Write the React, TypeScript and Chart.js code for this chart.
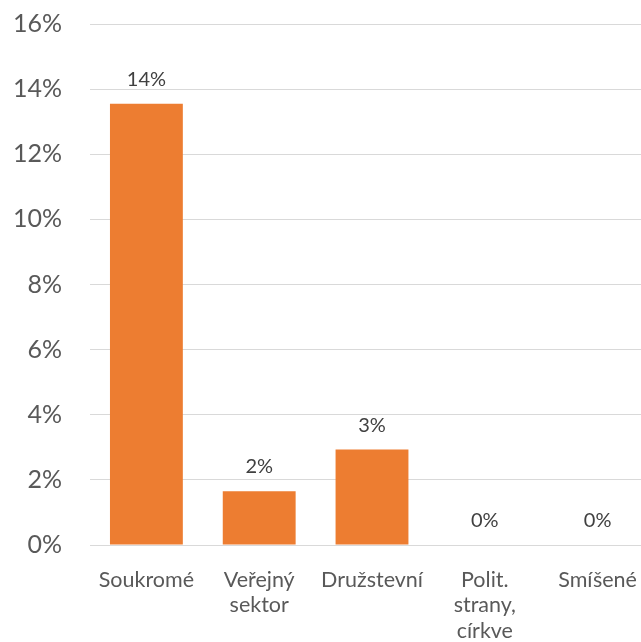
import React, { useEffect, useRef } from "react";
import { Chart, registerables } from "chart.js";

Chart.register(...registerables);

const categories: (string | string[])[] = [
  "Soukromé",
  ["Veřejný", "sektor"],
  "Družstevní",
  ["Polit.", "strany,", "církve"],
  "Smíšené",
];
const values: number[] = [13.55, 1.65, 2.93, 0, 0];
const yMin = 0;
const yMax = 16;
const yStep = 2;

const FONT = "Lato";

const dataLabelPlugin = {
  id: "dataLabels",
  afterDatasetsDraw(chart: any) {
    const ctx = chart.ctx;
    const meta = chart.getDatasetMeta(0);
    ctx.save();
    ctx.font = `20px ${FONT}`;
    ctx.fillStyle = "#404040";
    ctx.textAlign = "center";
    ctx.textBaseline = "alphabetic";
    meta.data.forEach((bar: any, i: number) => {
      const v = values[i];
      ctx.fillText(`${Math.round(v)}%`, bar.x, bar.y - 18);
    });
    ctx.restore();
  },
};

export default function App() {
  const ref = useRef<HTMLCanvasElement | null>(null);
  useEffect(() => {
    if (!ref.current) return;
    const chart = new Chart(ref.current, {
      type: "bar",
      data: {
        labels: categories,
        datasets: [
          {
            data: values,
            backgroundColor: "#ED7D31",
            borderWidth: 0,
            categoryPercentage: 1,
            barPercentage: 0.646,
          },
        ],
      },
      options: {
        responsive: false,
        animation: false,
        devicePixelRatio: 1,
        layout: { padding: { top: 24, right: 6, bottom: 0, left: 0 } },
        plugins: {
          legend: { display: false },
          tooltip: { enabled: false },
        },
        scales: {
          x: {
            grid: { display: false },
            border: { display: false },
            ticks: {
              color: "#595959",
              font: { family: FONT, size: 21.5, lineHeight: 1.19 },
              padding: 14,
              maxRotation: 0,
              autoSkip: false,
            },
            afterFit: (s: any) => {
              s.height = 97;
            },
          },
          y: {
            min: yMin,
            max: yMax,
            border: { display: false },
            grid: { color: "#D9D9D9", lineWidth: 1, drawTicks: false },
            ticks: {
              stepSize: yStep,
              color: "#595959",
              font: { family: FONT, size: 25 },
              padding: 28,
              callback: (v: any) => `${v}%`,
            },
            afterFit: (s: any) => {
              s.width = 90;
              s.paddingTop = 0;
              s.paddingBottom = 0;
            },
          },
        },
      },
      plugins: [dataLabelPlugin],
    });
    return () => chart.destroy();
  }, []);
  return (
    <div
      style={{
        position: "fixed",
        left: 0,
        top: 0,
        width: 641,
        height: 642,
        overflow: "hidden",
        background: "#fff",
      }}
    >
      <canvas ref={ref} width={660} height={642} style={{ width: 660, height: 642, display: "block" }} />
    </div>
  );
}
